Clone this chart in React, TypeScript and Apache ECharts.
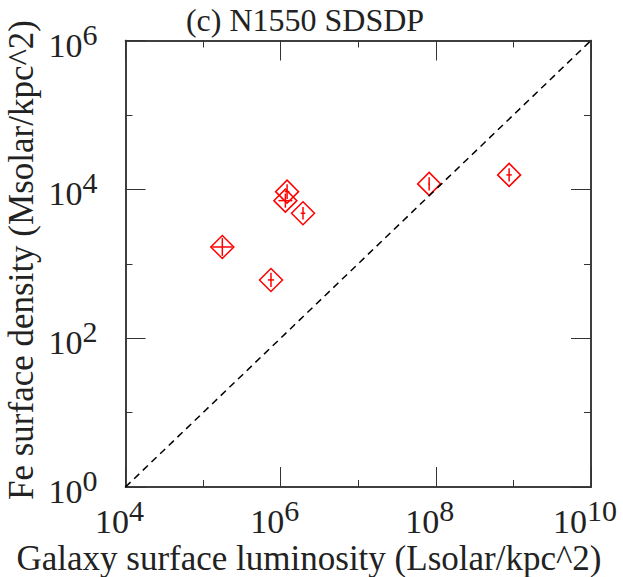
import React, { useEffect, useRef } from "react";
import * as echarts from "echarts";

const titleText = "(c) N1550 SDSDP";
const xName = "Galaxy surface luminosity (Lsolar/kpc^2)";
const yName = "Fe surface density (Msolar/kpc^2)";

// luminosity (x) and Fe surface density (y)
const lum = [1.77e5, 7.5e5, 1.21e6, 1.15e6, 1.94e6, 8.2e7, 8.8e8];
const feDens = [1680, 606, 9310, 7050, 4770, 11830, 15630];
// error half-widths in dex
const lumErrDex = [0.13, 0.04, 0.03, 0.09, 0.03, 0.01, 0.035];
const feErrDex = [0.12, 0.095, 0.1, 0.095, 0.085, 0.09, 0.09];

const xMajorTicks = [1e4, 1e6, 1e8, 1e10];
const xMinorTicks = [1e5, 1e7, 1e9];
const yMajorTicks = [1e0, 1e2, 1e4, 1e6];
const yMinorTicks = [1e1, 1e3, 1e5];
const oneToOne = [
  [1e4, 1e0],
  [1e10, 1e6],
];

const FONT = "Liberation Serif";
const TXT = "#222";
const AX = "#333";

function fmtPow(v: number) {
  const e = Math.round(Math.log10(v));
  return "{b|10}{s|" + e + "}";
}

const richX = {
  b: { fontSize: 34, fontFamily: FONT, color: TXT, padding: [9, 0, 0, 0] },
  s: { fontSize: 30, fontFamily: FONT, color: TXT, verticalAlign: "top", padding: [0, 12, 0, 0] },
};
const richY = {
  b: { fontSize: 34, fontFamily: FONT, color: TXT, padding: [9, 0, 0, 0] },
  s: { fontSize: 30, fontFamily: FONT, color: TXT, verticalAlign: "top" },
};

export default function App() {
  const ref = useRef<HTMLDivElement>(null);
  useEffect(() => {
    if (!ref.current) return;
    const chart = echarts.init(ref.current, null, { renderer: "svg" });
    const lineStyle = { color: AX, width: 1.5 };
    const tickStyle = { color: AX, width: 1 };
    const baseX = {
      type: "log",
      logBase: 10,
      min: 1e4,
      max: 1e10,
      gridIndex: 0,
      splitLine: { show: false },
      axisLine: { show: true, lineStyle },
    };
    const baseY = {
      type: "log",
      logBase: 10,
      min: 1e0,
      max: 1e6,
      gridIndex: 0,
      splitLine: { show: false },
      axisLine: { show: true, lineStyle },
    };
    const data = lum.map((x, i) => [x, feDens[i], lumErrDex[i], feErrDex[i]]);
    chart.setOption({
      animation: false,
      backgroundColor: "#fff",
      grid: { left: 125.5, right: 32, top: 40.5, bottom: 90, containLabel: false },
      xAxis: [
        {
          ...baseX,
          position: "bottom",
          axisTick: { show: true, inside: true, length: 20, lineStyle: tickStyle, customValues: xMajorTicks },
          axisLabel: { show: true, margin: 8, formatter: fmtPow, rich: richX, customValues: xMajorTicks, showMinLabel: true, showMaxLabel: true },
        },
        {
          ...baseX,
          position: "bottom",
          axisTick: { show: true, inside: true, length: 7, lineStyle: tickStyle, customValues: xMinorTicks },
          axisLabel: { show: false },
        },
        {
          ...baseX,
          position: "top",
          axisTick: { show: true, inside: true, length: 20, lineStyle: tickStyle, customValues: xMajorTicks },
          axisLabel: { show: false },
        },
        {
          ...baseX,
          position: "top",
          axisTick: { show: true, inside: true, length: 7, lineStyle: tickStyle, customValues: xMinorTicks },
          axisLabel: { show: false },
        },
      ],
      yAxis: [
        {
          ...baseY,
          position: "left",
          axisTick: { show: true, inside: true, length: 20, lineStyle: tickStyle, customValues: yMajorTicks },
          axisLabel: { show: true, margin: 28, formatter: fmtPow, rich: richY, customValues: yMajorTicks, showMinLabel: true, showMaxLabel: true },
        },
        {
          ...baseY,
          position: "left",
          axisTick: { show: true, inside: true, length: 7, lineStyle: tickStyle, customValues: yMinorTicks },
          axisLabel: { show: false },
        },
        {
          ...baseY,
          position: "right",
          axisTick: { show: true, inside: true, length: 20, lineStyle: tickStyle, customValues: yMajorTicks },
          axisLabel: { show: false },
        },
        {
          ...baseY,
          position: "right",
          axisTick: { show: true, inside: true, length: 7, lineStyle: tickStyle, customValues: yMinorTicks },
          axisLabel: { show: false },
        },
      ],
      graphic: [
        {
          type: "text",
          x: 305,
          y: 20,
          style: { text: titleText, font: `32px '${FONT}'`, fill: TXT, textAlign: "center", textVerticalAlign: "middle" },
        },
        {
          type: "text",
          x: 309,
          y: 558,
          style: { text: xName, font: `35px '${FONT}'`, fill: TXT, textAlign: "center", textVerticalAlign: "middle" },
        },
        {
          type: "text",
          x: 21,
          y: 260,
          rotation: Math.PI / 2,
          style: { text: yName, font: `35px '${FONT}'`, fill: TXT, textAlign: "center", textVerticalAlign: "middle" },
        },
      ],
      series: [
        {
          type: "line",
          xAxisIndex: 0,
          yAxisIndex: 0,
          data: oneToOne,
          symbol: "none",
          lineStyle: { color: "#000", width: 1.5, type: [7, 5] },
          silent: true,
        },
        {
          type: "custom",
          xAxisIndex: 0,
          yAxisIndex: 0,
          data,
          renderItem: (params: any, api: any) => {
            const x = api.value(0);
            const y = api.value(1);
            const ex = api.value(2);
            const ey = api.value(3);
            const c = api.coord([x, y]);
            const xl = api.coord([x / Math.pow(10, ex), y]);
            const xh = api.coord([x * Math.pow(10, ex), y]);
            const yl = api.coord([x, y / Math.pow(10, ey)]);
            const yh = api.coord([x, y * Math.pow(10, ey)]);
            const r = 11.5;
            const red = "#ff0000";
            return {
              type: "group",
              children: [
                {
                  type: "polygon",
                  shape: { points: [[c[0], c[1] - r], [c[0] + r, c[1]], [c[0], c[1] + r], [c[0] - r, c[1]]] },
                  style: { fill: "none", stroke: red, lineWidth: 1.5 },
                },
                { type: "line", shape: { x1: xl[0], y1: c[1], x2: xh[0], y2: c[1] }, style: { stroke: red, lineWidth: 1.5 } },
                { type: "line", shape: { x1: c[0], y1: yl[1], x2: c[0], y2: yh[1] }, style: { stroke: red, lineWidth: 1.5 } },
              ],
            };
          },
        },
      ],
    });
    return () => chart.dispose();
  }, []);
  return <div ref={ref} style={{ width: 623, height: 577, position: "absolute", left: 0, top: 0 }} />;
}
